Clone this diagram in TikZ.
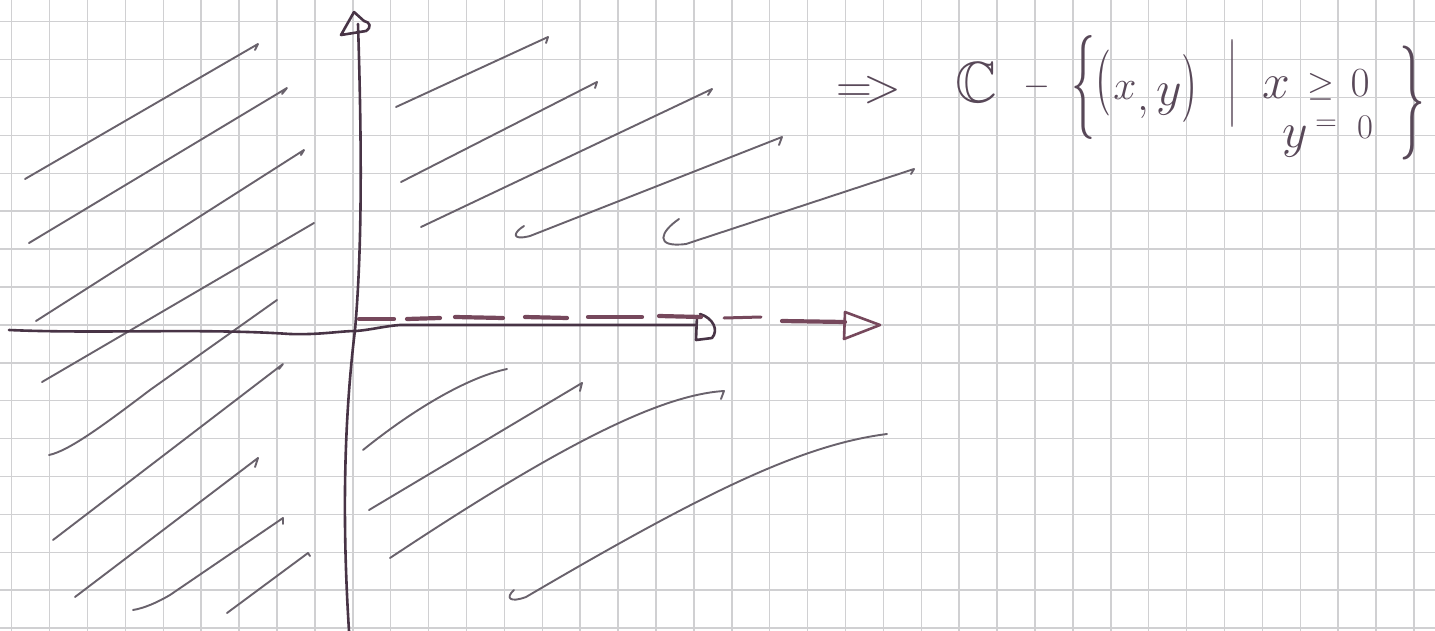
\documentclass[tikz,border=0pt]{standalone}
\usepackage{amssymb}
\definecolor{gridc}{RGB}{208,208,210}
\definecolor{hatchc}{RGB}{105,98,108}
\definecolor{axisc}{RGB}{72,52,70}
\definecolor{dashc}{RGB}{118,72,92}
\definecolor{inkc}{RGB}{88,72,88}
\newcommand\hwsize[1]{\fontsize{#1}{#1}\selectfont}
\begin{document}
\begin{tikzpicture}[x=0.5pt,y=-0.5pt,
  gridline/.style={draw=gridc,line width=0.75pt},
  hatch/.style={draw=hatchc,line width=0.95pt,line cap=round,line join=round},
  axisline/.style={draw=axisc,line width=1.3pt,line cap=round,line join=round},
  dashseg/.style={draw=dashc,line width=2.1pt,line cap=round},
  hw/.style={text=inkc,inner sep=0pt,outer sep=0pt}]
\useasboundingbox (0,0) rectangle (1435,631);
\fill[white] (0,0) rectangle (1435,631);
% grid paper
\foreach \i in {0,...,37} \draw[gridline] ({11.7+37.9*\i},0) -- ({11.7+37.9*\i},631);
\foreach \j in {0,...,16} \draw[gridline] (0,{21.7+37.9*\j}) -- (1435,{21.7+37.9*\j});

% hatching, left half
\draw[hatch] (25,179) -- (258,44) -- (255,50);
\draw[hatch] (29,243) -- (287,88) -- (282,94);
\draw[hatch] (36,321) -- (304,150) -- (301,155);
\draw[hatch] (42,382) -- (314,223);
\draw[hatch] (49,455) .. controls (68,451) and (100,428) .. (150,390) -- (277,300);
\draw[hatch] (53,540) -- (283,364) -- (279,369);
\draw[hatch] (75,597) -- (258,458) -- (255,467);
\draw[hatch] (133,610) .. controls (145,608) and (158,602) .. (170,595) -- (283,518) -- (283,524);
\draw[hatch] (227,613) -- (308,553) -- (310,556);

% hatching, upper right
\draw[hatch] (396,107) -- (548,37) -- (546,43);
\draw[hatch] (401,182) -- (597,82) -- (595,88);
\draw[hatch] (421,227) -- (712,89) -- (708,95);
\draw[hatch] (524,226) .. controls (514,232) and (510,241) .. (530,236) -- (782,137) -- (779,145);
\draw[hatch] (679,219) .. controls (660,232) and (654,248) .. (686,244) -- (914,169) -- (911,174);

% hatching, lower right
\draw[hatch] (363,450) .. controls (410,412) and (465,378) .. (507,369);
\draw[hatch] (369,510) -- (582,383) -- (580,391);
\draw[hatch] (390,558) .. controls (560,445) and (660,395) .. (724,391) -- (721,399);
\draw[hatch] (514,590) .. controls (505,598) and (510,603) .. (526,597) .. controls (700,495) and (800,445) .. (887,434);

% vertical axis with open arrow tip
\coordinate (ytop) at (358,24);
\coordinate (ybot) at (349,631);
\draw[axisline] (ytop) .. controls (362,150) and (362,250) .. (355,330) .. controls (344,420) and (342,520) .. (ybot);
\draw[axisline] (354,12) -- (341,35) -- (366,31) .. controls (372,27) and (370,22) .. (364,21) -- (354,12);

% horizontal axis with D-shaped tip
\coordinate (xleft) at (9,330);
\coordinate (xend) at (696,325);
\draw[axisline] (xleft) .. controls (100,334) and (200,328) .. (290,334) .. controls (320,335) and (340,331) .. (356,331) .. controls (370,330) and (385,326) .. (400,325) -- (xend);
\draw[axisline] (697,316) -- (696,340) -- (712,338) .. controls (719,330) and (713,318) .. (700,314);

% dashed ray (positive real axis)
\draw[dashseg] (359,319) -- (394,319);
\draw[dashseg] (407,319) -- (440,318);
\draw[dashseg] (455,317) -- (503,318);
\draw[dashseg] (525,317) -- (567,318);
\draw[dashseg] (588,317) -- (642,317);
\draw[dashseg] (659,316) -- (701,317);
\draw[dashseg, line width=1.5pt] (724,318) -- (761,317);
\draw[dashseg] (782,321) -- (845,322);
\draw[dashseg, line width=1.3pt, line join=round] (845,312) -- (880,325) -- (844,339) -- cycle;

% formula
\node[hw] (impl) at (869,90) {\hwsize{24}$=\!>$};
\node[hw] (CC) at (976,83) {\hwsize{29}$\mathbb{C}$};
\node[hw] (minus) at (1037,87) {\hwsize{16}$-$};
\node[hw] (lbrace) at (1083,88) {\resizebox*{12pt}{52pt}{$\{$}};
\node[hw] (lpar) at (1103,83) {\resizebox*{8pt}{33pt}{$($}};
\node[hw] (vx) at (1125,91) {\hwsize{22}$x$};
\node[hw] (comma) at (1143,113) {\hwsize{20}$,$};
\node[hw] (vy) at (1169,100) {\hwsize{24}$y$};
\node[hw] (rpar) at (1189,88) {\resizebox*{8pt}{34pt}{$)$}};
\node[hw] (bar) at (1232,84) {\resizebox*{5pt}{44pt}{$|$}};
\node[hw] (cx) at (1276,88) {\hwsize{24}$x$};
\node[hw] (geq) at (1321,87) {\hwsize{16}$\geq$};
\node[hw] (zeroA) at (1360,83) {\hwsize{22}$0$};
\node[hw] (cy) at (1295,142) {\hwsize{24}$y$};
\node[hw] (eq) at (1326,125) {\hwsize{15}$=$};
\node[hw] (zeroB) at (1365,127) {\hwsize{19}$0$};
\node[hw] (rbrace) at (1412,103) {\resizebox*{13pt}{57pt}{$\}$}};
\end{tikzpicture}
\end{document}
